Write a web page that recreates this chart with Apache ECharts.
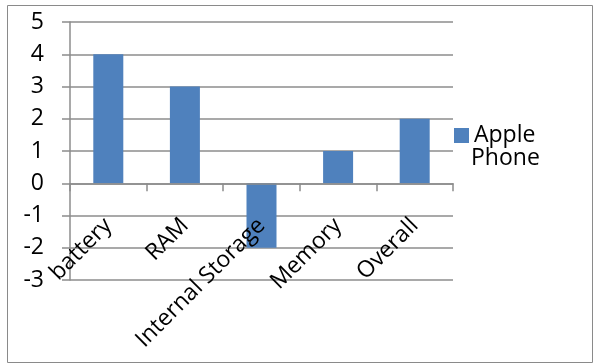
<!DOCTYPE html>
<html><head><meta charset="utf-8">
<script src="https://cdn.jsdelivr.net/npm/echarts@6/dist/echarts.min.js"></script>
<style>html,body{margin:0;padding:0;background:#fff;}#c{width:603px;height:363px;}</style>
</head><body><div id="c"></div>
<script>
const categories = ['battery', 'RAM', 'Internal Storage', 'Memory', 'Overall'];
const appleValues = [4, 3, -2, 1, 2];
const seriesName = 'Apple Phone';
const legendLines = ['Apple', 'Phone'];
const yMin = -3, yMax = 5, yStep = 1;

const chart = echarts.init(document.getElementById('c'), null, {renderer: 'canvas'});
const font = 'Open Sans';
const fs = 23;
chart.setOption({
  animation: false,
  backgroundColor: '#fff',
  graphic: [{
    type: 'rect', shape: {x: 7.5, y: 5.5, width: 585, height: 357},
    style: {fill: 'none', stroke: '#8a8a8a', lineWidth: 1}, z: -1
  }, {
    type: 'text', x: 471, y: 158.5,
    style: {text: legendLines[1], fontFamily: font, fontSize: fs, fill: '#000', verticalAlign: 'middle'}
  }],
  grid: {left: 70, right: 150, top: 22, bottom: 83, containLabel: false, outerBoundsMode: 'none'},
  legend: {
    show: true, left: 449, top: 119, orient: 'vertical',
    itemWidth: 15, itemHeight: 15, itemGap: 6,
    icon: 'rect',
    formatter: () => legendLines[0],
    textStyle: {fontFamily: font, fontSize: fs, color: '#000'}
  },
  xAxis: {
    type: 'category', data: categories, z: 5,
    axisLine: {onZero: true, lineStyle: {color: '#8c8c8c', width: 1.5}},
    axisTick: {show: true, inside: false, length: 8, alignWithLabel: false, lineStyle: {color: '#8c8c8c', width: 1.5}},
    axisLabel: {rotate: 45, interval: 0, margin: -58, fontFamily: font, fontSize: fs, color: '#000'},
    splitLine: {show: false}
  },
  yAxis: {
    type: 'value', min: yMin, max: yMax, interval: yStep,
    axisLine: {show: true, lineStyle: {color: '#8c8c8c', width: 1.5}},
    axisTick: {show: true, length: 8, lineStyle: {color: '#8c8c8c', width: 1.5}},
    axisLabel: {margin: 26, fontFamily: font, fontSize: fs, color: '#000'},
    splitLine: {show: true, lineStyle: {color: '#8c8c8c', width: 1.5}}
  },
  series: [{
    name: seriesName, type: 'bar', data: appleValues,
    barWidth: 30,
    itemStyle: {color: '#4F81BD'}
  }]
});
</script></body></html>
